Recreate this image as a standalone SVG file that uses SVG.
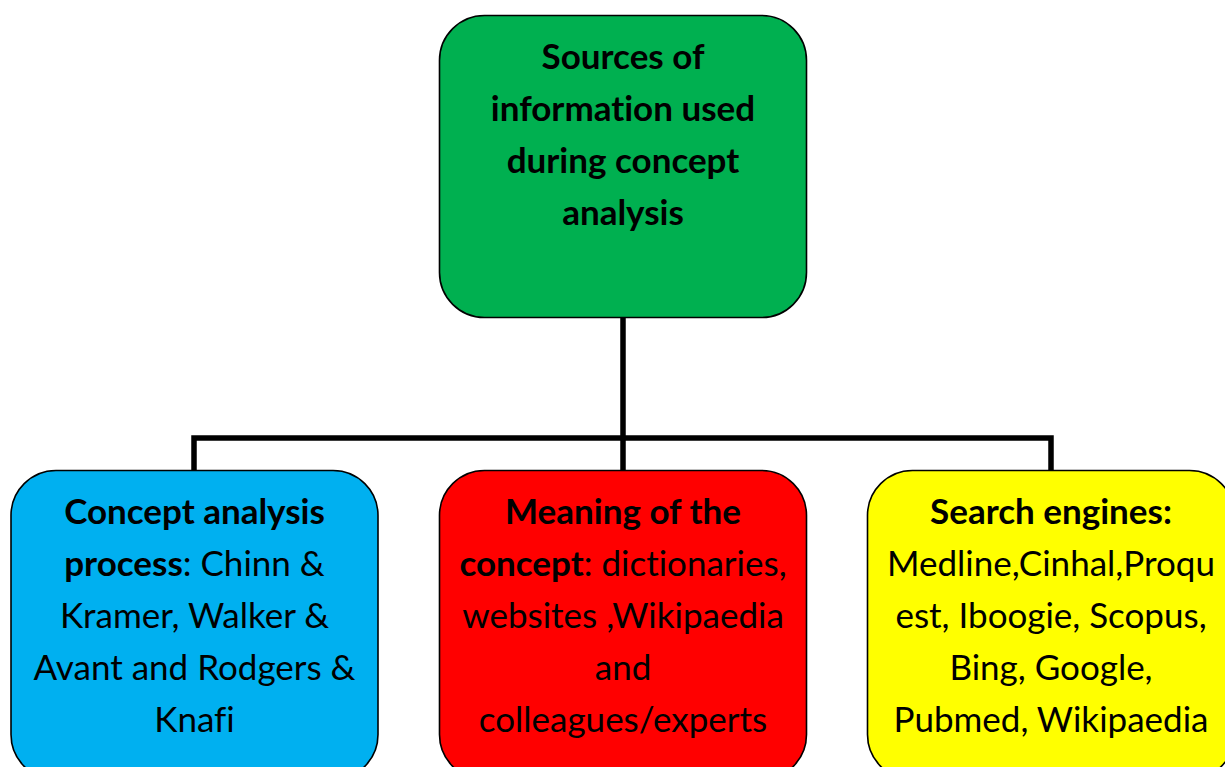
<svg xmlns="http://www.w3.org/2000/svg" width="1225" height="767" viewBox="0 0 1225 767">
<style>
.box{stroke:#000;stroke-width:1.6}
.t{font-family:Lato,"Open Sans","Liberation Sans",sans-serif;font-size:35px;fill:#000;text-anchor:middle;font-variant-ligatures:none;font-feature-settings:"liga" 0,"dlig" 0}
.b{font-weight:bold}
.conn{fill:none;stroke:#000;stroke-width:5.5;stroke-linejoin:miter}
</style>
<rect width="1225" height="767" fill="#fff"/>
<g id="connectors">
<path class="conn" d="M623,318 V438 M194,470 V438 H1051 V470 M623,438 V470"/>
</g>
<g id="root">
<rect class="box" x="439.5" y="15.5" width="367" height="302" rx="45" fill="#00B050"/>
<text class="t b" x="623" y="69">Sources of</text>
<text class="t b" x="623" y="121">information used</text>
<text class="t b" x="623" y="173">during concept</text>
<text class="t b" x="623" y="225">analysis</text>
</g>
<g id="process">
<rect class="box" x="11" y="470.5" width="367" height="309" rx="45" fill="#00B0F0"/>
<text class="t b" x="194.5" y="524">Concept analysis</text>
<text class="t" x="194.5" y="576"><tspan class="b">process</tspan>: Chinn &amp;</text>
<text class="t" x="194.5" y="628">Kramer, Walker &amp;</text>
<text class="t" x="194.5" y="680">Avant and Rodgers &amp;</text>
<text class="t" x="194.5" y="732">Knafi</text>
</g>
<g id="meaning">
<rect class="box" x="439.5" y="470.5" width="367" height="309" rx="45" fill="#FF0000"/>
<text class="t b" x="623" y="524">Meaning of the</text>
<text class="t" x="623" y="576"><tspan class="b">concept</tspan>: dictionaries,</text>
<text class="t" x="623" y="628">websites ,Wikipaedia</text>
<text class="t" x="623" y="680">and</text>
<text class="t" x="623" y="732">colleagues/experts</text>
</g>
<g id="search">
<rect class="box" x="867.5" y="470.5" width="367" height="309" rx="45" fill="#FFFF00"/>
<text class="t b" x="1051" y="524">Search engines:</text>
<text class="t" x="1051" y="576">Medline,Cinhal,Proqu</text>
<text class="t" x="1051" y="628">est, Iboogie, Scopus,</text>
<text class="t" x="1051" y="680">Bing, Google,</text>
<text class="t" x="1051" y="732">Pubmed, Wikipaedia</text>
</g>
</svg>
